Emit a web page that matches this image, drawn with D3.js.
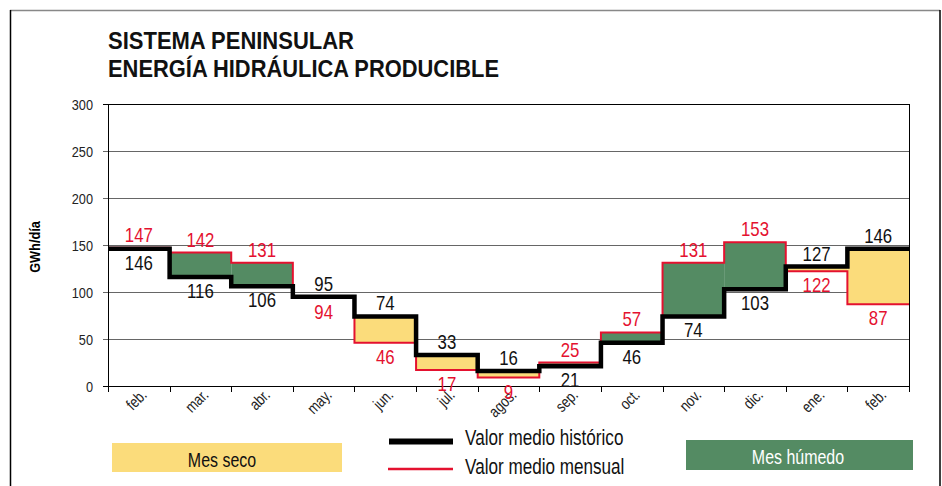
<!DOCTYPE html>
<html>
<head>
<meta charset="utf-8">
<script src="https://cdn.jsdelivr.net/npm/d3@7"></script>
<style>
  body { margin: 0; background: #fff; }
  svg { display: block; font-family: "Liberation Sans", Arial, sans-serif; }
</style>
</head>
<body>
<svg id="chart"></svg>
<script>
// Month labels (13 months, feb. appears twice)
const months = ["feb.", "mar.", "abr.", "may.", "jun.", "jul.", "agos.", "sep.", "oct.", "nov.", "dic.", "ene.", "feb."];
// Historical mean (black) and monthly mean (red), GWh/día
const historico = [146, 116, 106, 95, 74, 33, 16, 21, 46, 74, 103, 127, 146];
const mensual = [147, 142, 131, 94, 46, 17, 9, 25, 57, 131, 153, 122, 87];
const yTicks = [0, 50, 100, 150, 200, 250, 300];

const width = 942;
const height = 486;

const margin = { top: 104, right: 33, bottom: 100, left: 108 };

const red = "#e4112f";
const green = "#548b63";
const yellow = "#fbdc7b";

// no condensed font installed: squeeze the text horizontally
function condense(sel, f) {
    sel.each(function() {
        const w = this.getComputedTextLength();
        d3.select(this).attr("textLength", w * f).attr("lengthAdjust", "spacingAndGlyphs");
    });
}

const svg = d3.select("#chart")
    .attr("width", width)
    .attr("height", height);

// outer frame
svg.append("line").attr("x1", 10).attr("x2", 940).attr("y1", 10.5).attr("y2", 10.5)
    .attr("stroke", "#888").attr("stroke-width", 1.5);
svg.append("line").attr("x1", 10.5).attr("x2", 10.5).attr("y1", 10).attr("y2", height)
    .attr("stroke", "#000").attr("stroke-width", 1.5);
svg.append("line").attr("x1", 940).attr("x2", 940).attr("y1", 10).attr("y2", height)
    .attr("stroke", "#000").attr("stroke-width", 1.5);

// title
svg.append("text")
    .attr("x", 108).attr("y", 48.5)
    .attr("font-size", 24.5).attr("font-weight", "bold").attr("fill", "#111")
    .attr("textLength", 246).attr("lengthAdjust", "spacingAndGlyphs")
    .text("SISTEMA PENINSULAR");
svg.append("text")
    .attr("x", 108).attr("y", 76.5)
    .attr("font-size", 24.5).attr("font-weight", "bold").attr("fill", "#111")
    .attr("textLength", 391).attr("lengthAdjust", "spacingAndGlyphs")
    .text("ENERGÍA HIDRÁULICA PRODUCIBLE");

// scales
const x = d3.scaleBand()
    .domain(d3.range(months.length))
    .range([margin.left, width - margin.right])
    .padding(0);

const y = d3.scaleLinear()
    .domain([0, 300])
    .range([386, margin.top]);

// gridlines
svg.append("g")
    .selectAll("line")
    .data(yTicks.filter(d => d > 0 && d < 300))
    .enter().append("line")
    .attr("x1", margin.left - 5)
    .attr("x2", width - margin.right)
    .attr("y1", d => Math.round(y(d)) + 0.5)
    .attr("y2", d => Math.round(y(d)) + 0.5)
    .attr("stroke", "#666")
    .attr("stroke-width", 1);

// y axis labels
svg.append("g")
    .selectAll("text")
    .data(yTicks)
    .enter().append("text")
    .attr("x", 93)
    .attr("y", d => y(d) + 5.5)
    .attr("text-anchor", "end")
    .attr("font-size", 15)
    .attr("fill", "#222")
    .text(d => d)
    .call(condense, 0.85);

// y axis title
svg.append("text")
    .attr("transform", `translate(40, 247) rotate(-90)`)
    .attr("text-anchor", "middle")
    .attr("font-size", 15)
    .attr("font-weight", "bold")
    .text("GWh/día")
    .call(condense, 0.85);

// fills between historical and monthly
svg.append("g")
    .selectAll("rect")
    .data(months.map((m, i) => i))
    .enter().append("rect")
    .attr("x", i => x(i))
    .attr("width", x.bandwidth())
    .attr("y", i => y(Math.max(historico[i], mensual[i])))
    .attr("height", i => Math.abs(y(historico[i]) - y(mensual[i])))
    .attr("fill", i => mensual[i] > historico[i] ? green : yellow);

// step lines
function stepPoints(values) {
    let pts = values.map((v, i) => [x(i), y(v)]);
    pts.push([x(values.length - 1) + x.bandwidth(), y(values[values.length - 1])]);
    return pts;
}
const step = d3.line().curve(d3.curveStepAfter);

svg.append("path")
    .attr("d", step(stepPoints(mensual)))
    .attr("fill", "none")
    .attr("stroke", red)
    .attr("stroke-width", 2);

svg.append("path")
    .attr("d", step(stepPoints(historico)))
    .attr("fill", "none")
    .attr("stroke", "#000")
    .attr("stroke-width", 4.5)
    .attr("stroke-linejoin", "miter");

// plot frame: top, right, left axis, bottom axis
svg.append("line").attr("x1", margin.left - 5).attr("x2", width - margin.right)
    .attr("y1", y(300) + 0.5).attr("y2", y(300) + 0.5).attr("stroke", "#000");
svg.append("line").attr("x1", width - margin.right + 0.5).attr("x2", width - margin.right + 0.5)
    .attr("y1", y(300)).attr("y2", y(0) + 6).attr("stroke", "#000");
svg.append("line").attr("x1", margin.left + 0.5).attr("x2", margin.left + 0.5)
    .attr("y1", y(300)).attr("y2", y(0) + 6).attr("stroke", "#000");

const xAxis = svg.append("g")
    .attr("transform", `translate(0, ${Math.round(y(0)) + 0.5})`)
    .call(d3.axisBottom(x).tickSize(0).tickFormat(""));
xAxis.select(".domain").attr("stroke", "#000").attr("d", `M${margin.left - 5},0H${width - margin.right}`);

// tick marks at band boundaries
svg.append("g")
    .selectAll("line")
    .data(d3.range(months.length + 1))
    .enter().append("line")
    .attr("x1", i => Math.round(margin.left + i * x.step()) + 0.5)
    .attr("x2", i => Math.round(margin.left + i * x.step()) + 0.5)
    .attr("y1", y(0))
    .attr("y2", y(0) + 6)
    .attr("stroke", "#000");

// month labels
svg.append("g")
    .selectAll("text")
    .data(months)
    .enter().append("text")
    .attr("transform", (d, i) => `translate(${x(i) + x.bandwidth() / 2 + 9}, ${y(0) + 10}) rotate(-45)`)
    .attr("text-anchor", "end")
    .attr("font-size", 16)
    .attr("fill", "#222")
    .text(d => d)
    .call(condense, 0.8);

// value labels
function labelY(v, other, isAbove) {
    return isAbove ? y(Math.max(v, other)) - 6 : y(Math.min(v, other)) + 21;
}
const vals = svg.append("g").attr("font-size", 21).attr("text-anchor", "middle");
months.forEach((m, i) => {
    const redAbove = mensual[i] >= historico[i];
    vals.append("text")
        .attr("x", x(i) + x.bandwidth() / 2)
        .attr("y", labelY(mensual[i], historico[i], redAbove))
        .attr("fill", red)
        .text(mensual[i]);
    vals.append("text")
        .attr("x", x(i) + x.bandwidth() / 2)
        .attr("y", labelY(historico[i], mensual[i], !redAbove))
        .attr("fill", "#111")
        .text(historico[i]);
});
vals.selectAll("text").call(condense, 0.8);

// legend
const legend = svg.append("g");
legend.append("rect").attr("x", 112).attr("y", 443).attr("width", 230).attr("height", 29).attr("fill", yellow);
legend.append("text").attr("x", 222).attr("y", 467).attr("text-anchor", "middle")
    .attr("font-size", 21).attr("fill", "#111").text("Mes seco");

legend.append("line").attr("x1", 389).attr("x2", 453).attr("y1", 441.5).attr("y2", 441.5)
    .attr("stroke", "#000").attr("stroke-width", 6);
legend.append("text").attr("x", 465).attr("y", 445)
    .attr("font-size", 22.5).attr("fill", "#111").text("Valor medio histórico");
legend.append("line").attr("x1", 388).attr("x2", 453).attr("y1", 469).attr("y2", 469)
    .attr("stroke", red).attr("stroke-width", 2.5);
legend.append("text").attr("x", 465).attr("y", 474)
    .attr("font-size", 22.5).attr("fill", "#111").text("Valor medio mensual");

legend.append("rect").attr("x", 686).attr("y", 440).attr("width", 227).attr("height", 30).attr("fill", green);
legend.append("text").attr("x", 798).attr("y", 464).attr("text-anchor", "middle")
    .attr("font-size", 21).attr("fill", "#fff").text("Mes húmedo");
legend.selectAll("text").call(condense, 0.76);
</script>
</body>
</html>
